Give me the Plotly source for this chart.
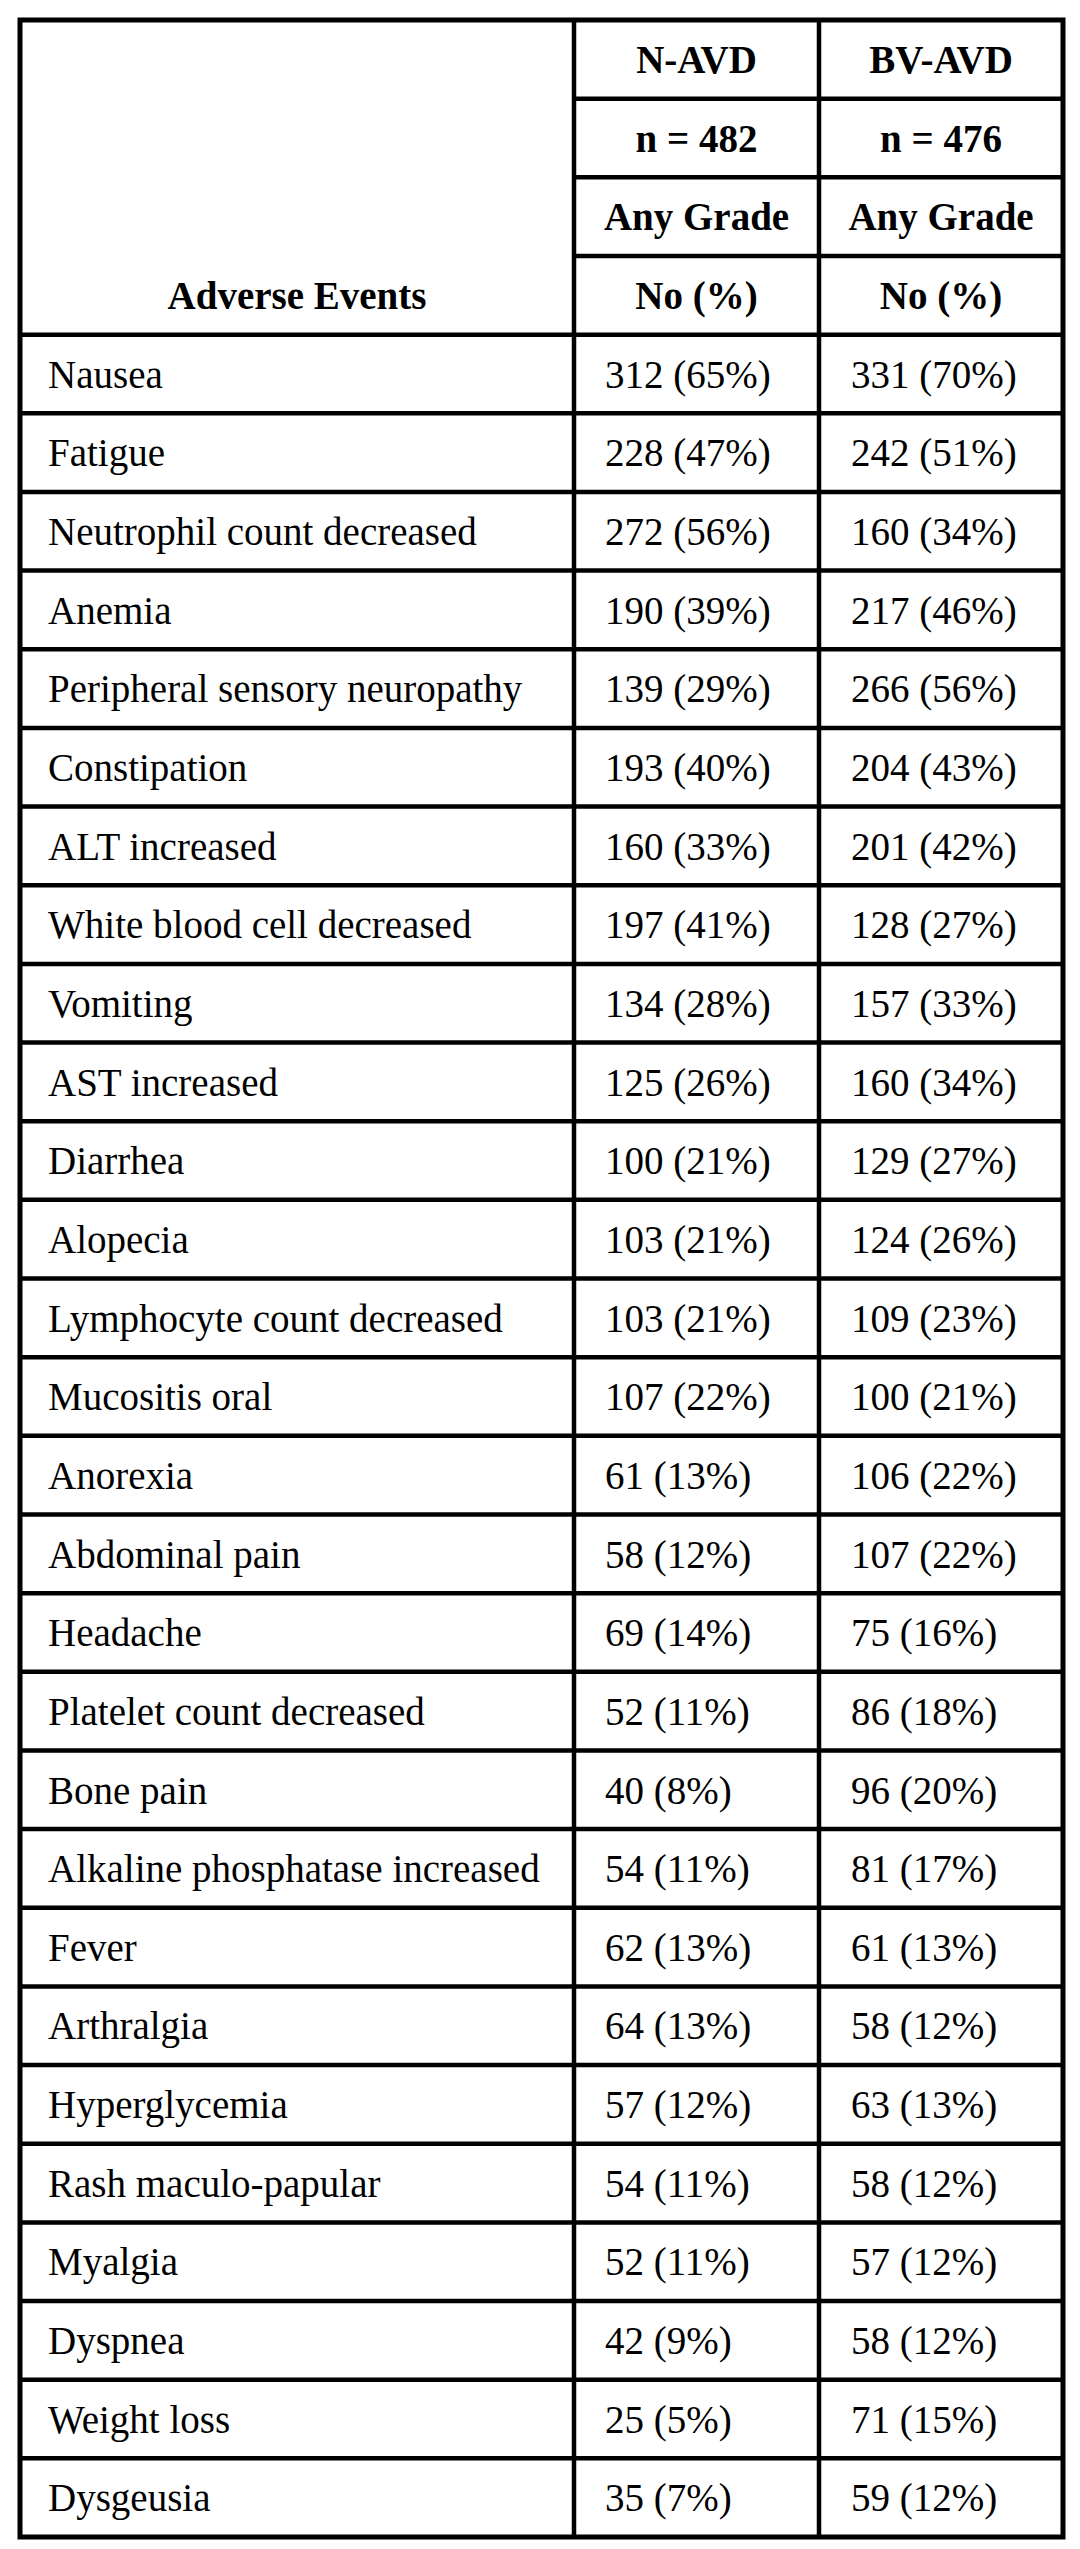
import plotly.graph_objects as go

# ---------------- data ----------------
events = [
    "Nausea", "Fatigue", "Neutrophil count decreased", "Anemia",
    "Peripheral sensory neuropathy", "Constipation", "ALT increased",
    "White blood cell decreased", "Vomiting", "AST increased", "Diarrhea",
    "Alopecia", "Lymphocyte count decreased", "Mucositis oral", "Anorexia",
    "Abdominal pain", "Headache", "Platelet count decreased", "Bone pain",
    "Alkaline phosphatase increased", "Fever", "Arthralgia", "Hyperglycemia",
    "Rash maculo-papular", "Myalgia", "Dyspnea", "Weight loss", "Dysgeusia",
]
navd_n = [312, 228, 272, 190, 139, 193, 160, 197, 134, 125, 100, 103, 103, 107,
          61, 58, 69, 52, 40, 54, 62, 64, 57, 54, 52, 42, 25, 35]
navd_pct = [65, 47, 56, 39, 29, 40, 33, 41, 28, 26, 21, 21, 21, 22,
            13, 12, 14, 11, 8, 11, 13, 13, 12, 11, 11, 9, 5, 7]
bvavd_n = [331, 242, 160, 217, 266, 204, 201, 128, 157, 160, 129, 124, 109, 100,
           106, 107, 75, 86, 96, 81, 61, 58, 63, 58, 57, 58, 71, 59]
bvavd_pct = [70, 51, 34, 46, 56, 43, 42, 27, 33, 34, 27, 26, 23, 21,
             22, 22, 16, 18, 20, 17, 13, 12, 13, 12, 12, 12, 15, 12]

groups = ["N-AVD", "BV-AVD"]
group_sizes = [482, 476]
grade_label = "Any Grade"
stat_label = "No (%)"
first_col_title = "Adverse Events"

# ---------------- layout constants ----------------
W, H = 1080, 2549
OFF = 8  # browser body margin compensation
col_edges = [20, 574, 819, 1063]
top, bottom = 20, 2537
n_header = 4
n_rows = n_header + len(events)
row_h = (bottom - top) / n_rows
FONT = '"Liberation Serif", "Times New Roman", Times, serif'
FS = 39
TEXT_DY = 4
LINE_W = 4.5

def row_center(i):
    return top + (i + 0.5) * row_h + TEXT_DY

fig = go.Figure()

# header text (bold, centered)
hdr_x, hdr_y, hdr_t = [], [], []
hdr_x.append((col_edges[0] + col_edges[1]) / 2)
hdr_y.append(row_center(n_header - 1))
hdr_t.append(first_col_title)
for g, (name, size) in enumerate(zip(groups, group_sizes)):
    cx = (col_edges[g + 1] + col_edges[g + 2]) / 2
    for r, txt in enumerate([name, f"n = {size}", grade_label, stat_label]):
        hdr_x.append(cx)
        hdr_y.append(row_center(r))
        hdr_t.append(txt)

fig.add_trace(go.Scatter(
    x=hdr_x, y=hdr_y, text=hdr_t, mode="text", textposition="middle center",
    textfont=dict(family=FONT, size=FS, color="black", weight="bold"),
    hoverinfo="skip", showlegend=False,
))

# body text (left aligned)
pad = [28, 31, 32]
col_texts = [
    events,
    [f"{a} ({b}%)" for a, b in zip(navd_n, navd_pct)],
    [f"{a} ({b}%)" for a, b in zip(bvavd_n, bvavd_pct)],
]
for c, texts in enumerate(col_texts):
    fig.add_trace(go.Scatter(
        x=[col_edges[c] + pad[c]] * len(texts),
        y=[row_center(n_header + i) for i in range(len(texts))],
        text=texts, mode="text", textposition="middle right",
        textfont=dict(family=FONT, size=FS, color="black"),
        hoverinfo="skip", showlegend=False,
    ))

# grid lines
shapes = []
line = dict(color="black", width=LINE_W)
shapes.append(dict(type="rect", x0=col_edges[0], x1=col_edges[-1], y0=top, y1=bottom,
                   xref="x", yref="y", line=dict(color="black", width=5)))
for xe in col_edges[1:-1]:
    shapes.append(dict(type="line", x0=xe, x1=xe, y0=top, y1=bottom,
                       xref="x", yref="y", line=line))
for r in range(1, n_rows):
    y = top + r * row_h
    x0 = col_edges[1] if r < n_header else col_edges[0]
    shapes.append(dict(type="line", x0=x0, x1=col_edges[-1], y0=y, y1=y,
                       xref="x", yref="y", line=line))

fig.update_layout(
    width=W, height=H,
    margin=dict(l=0, r=0, t=0, b=0),
    paper_bgcolor="white", plot_bgcolor="white",
    shapes=shapes,
    xaxis=dict(range=[OFF, W + OFF], visible=False, fixedrange=True),
    yaxis=dict(range=[H + OFF, OFF], visible=False, fixedrange=True),
)

fig.write_html("out.html")
